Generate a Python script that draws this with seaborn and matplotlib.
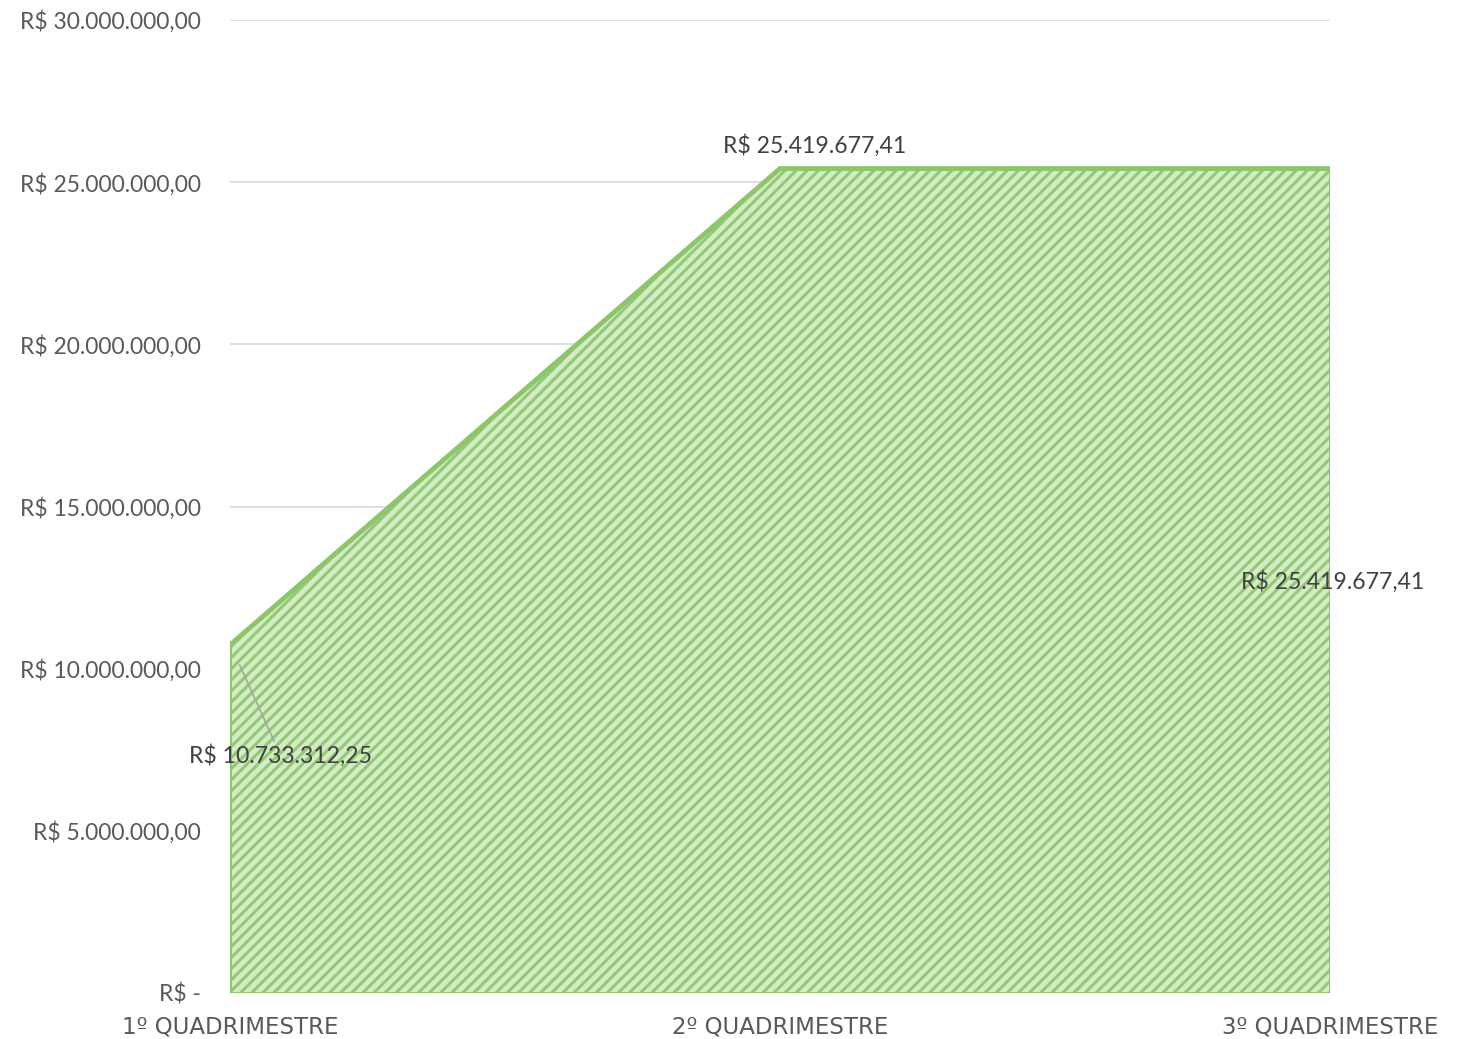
import matplotlib
matplotlib.use("Agg")
import matplotlib.pyplot as plt
import seaborn as sns
import pandas as pd
import numpy as np

categories = ["1º QUADRIMESTRE", "2º QUADRIMESTRE", "3º QUADRIMESTRE"]
values = [10733312.25, 25419677.41, 25419677.41]
value_labels = ["R$ 10.733.312,25", "R$ 25.419.677,41", "R$ 25.419.677,41"]
y_ticks = [0, 5000000, 10000000, 15000000, 20000000, 25000000, 30000000]
y_tick_labels = ["R$ -", "R$ 5.000.000,00", "R$ 10.000.000,00", "R$ 15.000.000,00",
                 "R$ 20.000.000,00", "R$ 25.000.000,00", "R$ 30.000.000,00"]

sns.set_theme(style="white")
plt.rcParams['font.family'] = ['Lato', 'DejaVu Sans']
plt.rcParams['hatch.linewidth'] = 2.2
plt.rcParams['hatch.color'] = '#92c977'

df = pd.DataFrame({"x": np.arange(len(categories)), "y": values})

fig = plt.figure(figsize=(14.58, 10.39), dpi=100)
ax = fig.add_axes([230/1458, 1-993/1039, 1100/1458, (993-20)/1039])

ax.fill_between(df["x"], 0, df["y"], facecolor="#d3ecc3", edgecolor="#92c977",
                hatch="///", linewidth=0, zorder=2)
sns.lineplot(data=df, x="x", y="y", ax=ax, color="#8cc56a", linewidth=3.5, zorder=3)
ax.plot([df["x"].iloc[-1], df["x"].iloc[-1]], [0, values[-1]], color="#8cc56a", lw=2, zorder=3)
ax.plot([df["x"].iloc[0], df["x"].iloc[-1]], [0, 0], color="#8cc56a", lw=2, zorder=3)
ax.plot([df["x"].iloc[0], df["x"].iloc[0]], [0, values[0]], color="#8cc56a", lw=2, zorder=3)

ax.set_xlim(0, 2)
ax.set_ylim(0, 30000000)
ax.set_yticks(y_ticks)
ax.set_yticklabels(y_tick_labels)
ax.set_xticks(df["x"])
ax.set_xticklabels(categories, family=['DejaVu Sans'])
ax.tick_params(axis='y', length=0, pad=21, labelsize=16.5, labelcolor="#595959")
ax.tick_params(axis='x', length=0, pad=16, labelsize=16.5, labelcolor="#595959")
ax.grid(axis='y', color="#d9d9d9", linewidth=1.2, zorder=0)
ax.grid(axis='x', visible=False)
ax.set_axisbelow(True)
for s in ax.spines.values():
    s.set_visible(False)
ax.set_xlabel("")
ax.set_ylabel("")

# data labels
ax.annotate(value_labels[0], xy=(0.005, values[0] - 150000), xytext=(48, -106),
            textcoords="offset pixels", ha="center", va="center", fontsize=16.6,
            color="#404040", zorder=5,
            arrowprops=dict(arrowstyle="-", color="#a6a6a6", lw=1.2,
                            shrinkA=0, shrinkB=12))
ax.annotate(value_labels[1], xy=(1, values[1]), xytext=(35, 23),
            textcoords="offset pixels", ha="center", va="center", fontsize=16.6,
            color="#404040", zorder=5)
ax.annotate(value_labels[2], xy=(2, values[2]), xytext=(3, -413),
            textcoords="offset pixels", ha="center", va="center", fontsize=16.6,
            color="#404040", zorder=5)

fig.savefig("out.png", dpi=100)
